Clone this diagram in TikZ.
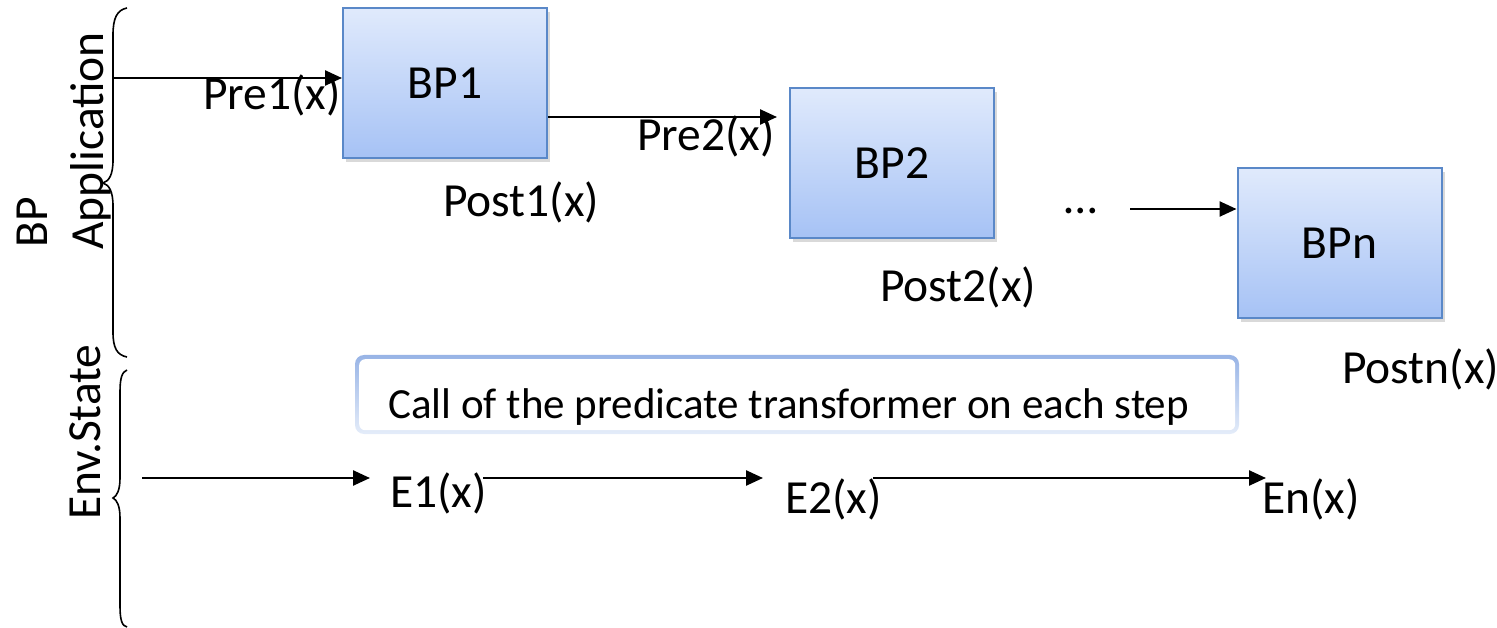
\documentclass[tikz,border=0pt]{standalone}
\usepackage{fontspec}
\setmainfont{Carlito}
\usetikzlibrary{arrows.meta,shadows}
\definecolor{boxtop}{HTML}{E0EAFC}
\definecolor{boxbot}{HTML}{A6C2F5}
\definecolor{boxline}{HTML}{5A88C8}
\definecolor{frametop}{HTML}{98B4E6}
\definecolor{framebot}{HTML}{E4ECF9}
\begin{document}
\begin{tikzpicture}[x=1pt,y=-1pt,
  every node/.style={font=\fontsize{47.5}{57}\selectfont, inner sep=0pt},
  bpbox/.style={draw=boxline, line width=2pt, top color=boxtop, bottom color=boxbot,
    minimum width=204pt, minimum height=150pt,
    drop shadow={opacity=0.3, shadow xshift=3pt, shadow yshift=-4pt}},
  arr/.style={line width=2.5pt, -{Triangle[length=17pt,width=15pt]}},
  brace/.style={line width=1.6pt},
  lbl/.style={anchor=base west}]

\useasboundingbox (0,0) rectangle (1497,628);

% group labels and braces
\node[rotate=90, lbl] (lbp)  at (47,248)  {BP};
\node[rotate=90, lbl] (lapp) at (103,250) {Application};
\node[rotate=90, lbl] (lenv) at (100,520) {Env.State};

\draw[brace] (127,8) .. controls (117,10) and (113,18) .. (113,35) -- (113,160)
  .. controls (113,175) and (109,181) .. (103,183)
  .. controls (109,185) and (113,191) .. (113,206) -- (113,332)
  .. controls (113,348) and (117,355) .. (127,357);
\draw[brace] (127,370) .. controls (122,372) and (120,378) .. (120,392) -- (120,478)
  .. controls (120,490) and (117,496) .. (113,498)
  .. controls (117,500) and (120,506) .. (120,518) -- (120,606)
  .. controls (120,620) and (122,626) .. (127,627);

% business process steps
\node[bpbox] (bp1) at (445,83)    {BP1};
\node[bpbox] (bp2) at (892,163)   {BP2};
\node[bpbox] (bpn) at (1339.5,243) {BPn};

\node[lbl] (pre1)  at (203,110)  {Pre1(x)};
\node[lbl] (pre2)  at (637,151)  {Pre2(x)};
\node[lbl] (post1) at (443,217)  {Post1(x)};
\node[lbl] (post2) at (880,302)  {Post2(x)};
\node[lbl] (postn) at (1342,383) {Postn(x)};
\node[lbl] (dots)  at (1064,214) {…};

\coordinate (s1) at (113,78);
\coordinate (t2) at (777,117);
\coordinate (s3) at (1130,209);
\draw[arr] (s1) -- (bp1.west |- s1);
\draw[arr] (bp1.east |- t2) -- (t2);
\draw[arr] (s3) -- (bpn.west |- s3);

% predicate transformer frame
\path[top color=frametop, bottom color=framebot, rounded corners=9pt]
  (355,355) rectangle (1239,434);
\node[fill=white, rounded corners=6pt, minimum width=876pt, minimum height=71pt,
  anchor=north west] (frame) at (359,359) {};
\node[lbl, font=\fontsize{43}{52}\selectfont] (call) at (388,418)
  {Call of the predicate transformer on each step};

% environment states
\node[lbl] (e1) at (390,507)  {E1(x)};
\node[lbl] (e2) at (785,513)  {E2(x)};
\node[lbl] (en) at (1262,513) {En(x)};

\coordinate (s4) at (142,478);
\coordinate (t4) at (370,478);
\coordinate (s5) at (483,478);
\coordinate (t5) at (763,478);
\coordinate (s6) at (873,478);
\coordinate (t6) at (1266,478);
\draw[arr] (s4) -- (t4);
\draw[arr] (s5) -- (t5);
\draw[arr] (s6) -- (t6);

\node[anchor=base] (avar) at (1357,640) {$a$};
\end{tikzpicture}
\end{document}
